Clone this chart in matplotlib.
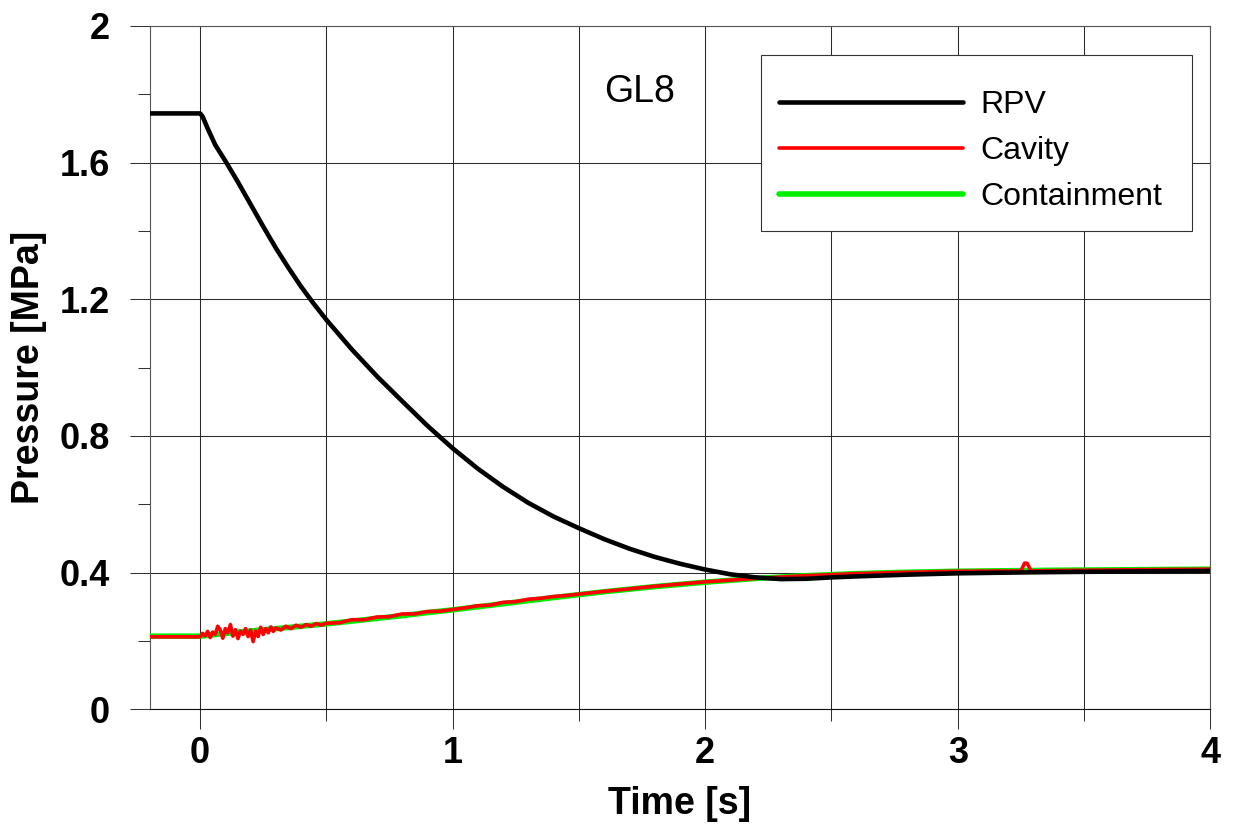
import matplotlib
matplotlib.use("Agg")
import matplotlib.pyplot as plt
from matplotlib.ticker import FixedLocator
from matplotlib.patches import Rectangle

# ---- data ----
# RPV pressure [MPa] vs time [s]
t_rpv = [-0.2, 0.0, 0.01, 0.03, 0.06, 0.10, 0.15, 0.20, 0.25, 0.30, 0.35,
         0.40, 0.45, 0.50, 0.60, 0.70, 0.80, 0.90, 1.00, 1.10, 1.20, 1.30,
         1.40, 1.50, 1.60, 1.70, 1.80, 1.90, 2.00, 2.10, 2.20, 2.30, 2.40,
         2.50, 2.60, 2.80, 3.00, 3.30, 3.60, 4.00]
p_rpv = [1.744, 1.744, 1.735, 1.700, 1.652, 1.605, 1.543, 1.478, 1.413,
         1.350, 1.292, 1.237, 1.187, 1.140, 1.054, 0.975, 0.902, 0.830,
         0.764, 0.704, 0.651, 0.604, 0.564, 0.530, 0.498, 0.470, 0.446,
         0.426, 0.409, 0.395, 0.386, 0.381, 0.382, 0.386, 0.389, 0.394,
         0.398, 0.401, 0.403, 0.405]

# Cavity pressure [MPa]
t_cav = [-0.2, 0.0, 0.01, 0.02, 0.03, 0.04, 0.05, 0.06, 0.07, 0.08, 0.09,
         0.10, 0.11, 0.12, 0.13, 0.14, 0.15, 0.16, 0.17, 0.18, 0.19, 0.20,
         0.21, 0.22, 0.23, 0.24, 0.25, 0.26, 0.27, 0.28, 0.29, 0.30, 0.32,
         0.34, 0.36, 0.38, 0.40, 0.42, 0.44, 0.46, 0.48, 0.50, 0.55, 0.60,
         0.65, 0.70, 0.75, 0.80, 0.85, 0.90, 0.95, 1.00, 1.05, 1.10, 1.15,
         1.20, 1.25, 1.30, 1.35, 1.40, 1.45, 1.50, 1.60, 1.80, 2.00, 2.20,
         2.40, 2.60, 2.80, 3.00, 3.25, 3.265, 3.275, 3.29, 3.50, 3.80, 4.00]
p_cav = [0.212, 0.212, 0.222, 0.215, 0.228, 0.210, 0.226, 0.219, 0.243, 0.232,
         0.208, 0.236, 0.224, 0.248, 0.214, 0.233, 0.207, 0.229, 0.219, 0.236,
         0.213, 0.232, 0.198, 0.229, 0.213, 0.240, 0.219, 0.236, 0.224, 0.241,
         0.228, 0.238, 0.232, 0.243, 0.236, 0.246, 0.240, 0.248, 0.243, 0.251,
         0.246, 0.252, 0.253, 0.262, 0.262, 0.270, 0.271, 0.279, 0.279, 0.286,
         0.287, 0.292, 0.297, 0.303, 0.305, 0.313, 0.315, 0.322, 0.325, 0.330,
         0.333, 0.337, 0.345, 0.360, 0.373, 0.383, 0.391, 0.397, 0.401, 0.404,
         0.405, 0.428, 0.427, 0.405, 0.407, 0.409, 0.410]

# Containment pressure [MPa]
t_con = [-0.2, 0.0, 0.1, 0.2, 0.3, 0.4, 0.5, 0.6, 0.7, 0.8, 0.9, 1.0, 1.2,
         1.4, 1.6, 1.8, 2.0, 2.2, 2.4, 2.6, 2.8, 3.0, 3.4, 3.8, 4.0]
p_con = [0.214, 0.214, 0.222, 0.229, 0.236, 0.243, 0.250, 0.258, 0.266,
         0.274, 0.283, 0.291, 0.309, 0.327, 0.344, 0.359, 0.372, 0.383,
         0.391, 0.397, 0.401, 0.404, 0.407, 0.409, 0.410]

series_labels = ["RPV", "Cavity", "Containment"]
x_ticks = [0, 1, 2, 3, 4]
y_ticks = [0, 0.4, 0.8, 1.2, 1.6, 2.0]
y_ticklabels = ["0", "0.4", "0.8", "1.2", "1.6", "2"]

# ---- figure ----
plt.rcParams["font.family"] = ["Liberation Sans", "DejaVu Sans"]

fig = plt.figure(figsize=(12.33, 8.32), dpi=100)
ax = fig.add_axes([0.1213, 0.1475, 0.8603, 0.8213])

ax.set_xlim(-0.2, 4.0)
ax.set_ylim(0, 2.0)

# grid: vertical every 0.5 s, horizontal every 0.4 MPa
ax.xaxis.set_major_locator(FixedLocator(x_ticks))
ax.xaxis.set_minor_locator(FixedLocator([0.5, 1.5, 2.5, 3.5]))
ax.yaxis.set_major_locator(FixedLocator(y_ticks))
ax.yaxis.set_minor_locator(FixedLocator([0.2, 0.6, 1.0, 1.4, 1.8]))
ax.set_yticklabels(y_ticklabels)
ax.grid(True, which="major", axis="both", color="#2a2a2a", lw=0.75)
ax.grid(True, which="minor", axis="x", color="#2a2a2a", lw=0.75)
ax.set_axisbelow(True)

for s in ax.spines.values():
    s.set_color("#555555")
    s.set_linewidth(0.8)
ax.spines["bottom"].set_color("#111111")

ax.tick_params(axis="both", which="major", direction="out", length=14.4,
               width=0.75, color="#333333", labelsize=26)
ax.tick_params(axis="both", which="minor", direction="out", length=8.6,
               width=0.75, color="#333333")
ax.tick_params(axis="y", which="major", pad=14)
ax.tick_params(axis="x", which="major", pad=5)
for lbl in ax.get_xticklabels() + ax.get_yticklabels():
    lbl.set_fontweight("bold")

ax.set_xlabel("Time [s]", fontsize=27, fontweight="bold", va="top")
ax.set_ylabel("Pressure [MPa]", fontsize=27, fontweight="bold")
ax.xaxis.set_label_coords(0.5, -0.113)
ax.yaxis.set_label_coords(-0.097, 0.5)

# ---- curves ----
l_con, = ax.plot(t_con, p_con, color="#00ee00", lw=4.0,
                 solid_capstyle="round", solid_joinstyle="round", zorder=3)
l_cav, = ax.plot(t_cav, p_cav, color="#ff0000", lw=2.6,
                 solid_capstyle="round", solid_joinstyle="round", zorder=4)
l_rpv, = ax.plot(t_rpv, p_rpv, color="black", lw=3.3,
                 solid_capstyle="round", solid_joinstyle="round", zorder=5)

ax.text(1.598, 1.778, "GL8", fontsize=27, ha="left", va="baseline")

# legend box drawn as a separate frame, entries placed inside it
ax.add_patch(Rectangle((0.5766, 0.7003), 0.4057, 0.2567,
                       transform=ax.transAxes, facecolor="white",
                       edgecolor="#333333", lw=0.8, zorder=6))
leg = ax.legend([l_rpv, l_cav, l_con], series_labels, loc="upper left",
                bbox_to_anchor=(0.5681, 0.9453), borderaxespad=0,
                fontsize=23, handlelength=5.75, handletextpad=0.55,
                labelspacing=0.5, borderpad=0.85, frameon=False)
leg.set_zorder(7)

fig.savefig("out.png", dpi=100)
